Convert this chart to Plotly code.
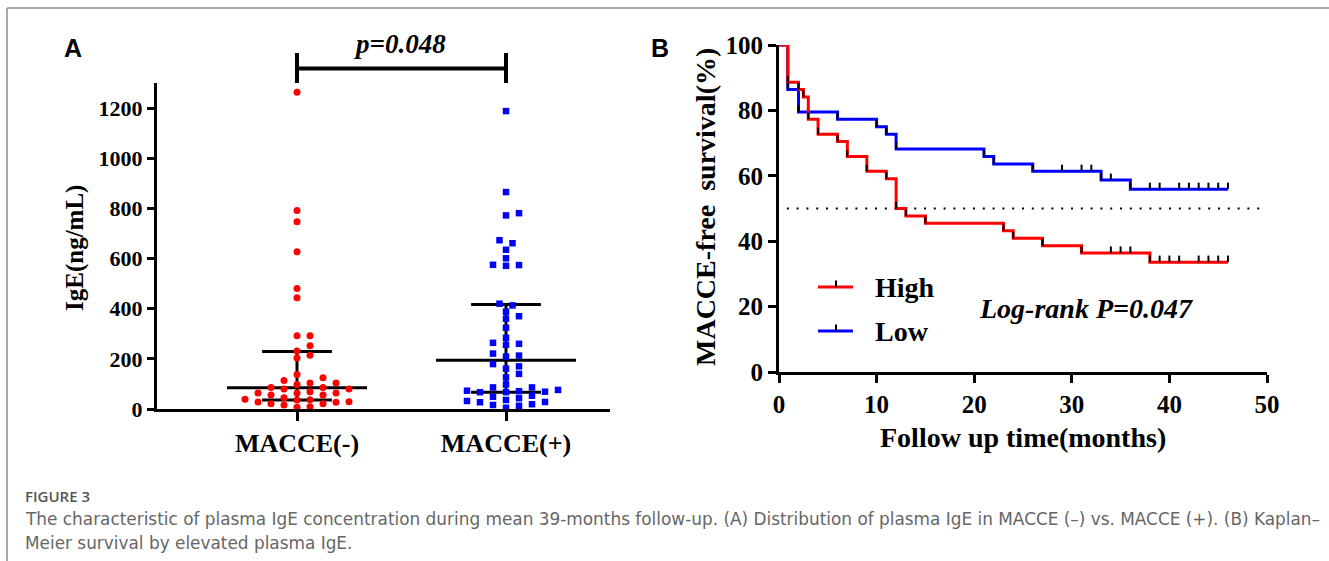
import numpy as np
import plotly.graph_objects as go

W, H = 1329, 561

# ---------------- data ----------------
categories = ["MACCE(-)", "MACCE(+)"]
ige_neg = [1263, 792, 747, 627, 481, 444, 292, 292, 252, 231, 214, 203, 138, 125, 114,
           104, 104, 98, 86, 86, 80, 80, 69, 64, 64, 64, 56, 56, 45, 39, 37, 36, 29,
           28, 27, 21, 21, 16, 9, 7]
ige_pos = [1188, 865, 781, 772, 673, 661, 635, 601, 575, 574, 571, 420, 413, 388, 370,
           360, 324, 284, 264, 260, 256, 221, 213, 209, 179, 170, 161, 140, 126, 98, 86,
           86, 76, 73, 71, 69, 67, 67, 53, 49, 43, 36, 32, 28, 27, 19, 16, 13, 5]
group_median = [85, 194]
group_q1 = [36, 67]
group_q3 = [229, 417]
p_text = "p=0.048"
a_yticks = [0, 200, 400, 600, 800, 1000, 1200]

high_time = [0, 0.9, 2, 2.5, 3, 4, 6, 7, 9, 11, 12, 13, 15, 23, 24, 27, 31, 38]
high_surv = [100, 88.6, 86.4, 84.1, 77.3, 72.7, 70.5, 65.9, 61.4, 59.1, 50.0, 47.7,
             45.5, 43.2, 40.9, 38.6, 36.4, 33.6]
high_censor = [34, 35, 36, 39, 40, 41, 43, 44, 45, 46]
low_time = [0, 0.9, 2, 6, 10, 11, 12, 21, 22, 26, 33, 36]
low_surv = [100, 86.4, 79.5, 77.3, 75.0, 72.7, 68.2, 65.9, 63.6, 61.4, 58.7, 55.9]
low_censor = [29, 31, 32, 34, 38, 39, 41, 42, 43, 44, 45, 46]
follow_end = 46
b_xticks = [0, 10, 20, 30, 40, 50]
b_yticks = [0, 20, 40, 60, 80, 100]

# ---------------- geometry helpers ----------------
def px(x):
    return x / W

def py(y):
    return 1 - y / H

A_X0, A_X1, A_Y0, A_Y1 = 157, 610, 409, 83
A_RANGE_X = [1 - (297 - A_X0) / 209, 2 + (A_X1 - 506) / 209]
A_RANGE_Y = [0, 1300]
B_X0, B_X1, B_Y0, B_Y1 = 779, 1267, 372, 45

unit_px_x = (A_X1 - A_X0) / (A_RANGE_X[1] - A_RANGE_X[0])
unit_px_y = (A_Y0 - A_Y1) / (A_RANGE_Y[1] - A_RANGE_Y[0])


def swarm(values, center):
    """simple beeswarm in pixel space"""
    order = np.argsort(values)
    placed = []
    xs = [0.0] * len(values)
    for i in order:
        yv = values[i] * unit_px_y
        cands = [0]
        for k in range(1, 30):
            cands += [k, -k]
        for k in cands:
            ox = k * 6.5
            ok = True
            for (qx, qy) in placed:
                if ((ox - qx) / 12.5) ** 2 + ((yv - qy) / 7.0) ** 2 < 1:
                    ok = False
                    break
            if ok:
                break
        placed.append((ox, yv))
        xs[i] = center + ox / unit_px_x
    return xs


fig = go.Figure()

serif = "Liberation Serif"

# ---- panel A points ----
fig.add_trace(go.Scatter(
    x=swarm(ige_neg, 1), y=ige_neg, mode="markers", xaxis="x", yaxis="y",
    marker=dict(symbol="circle", size=7, color="#FF0000", line=dict(width=0)),
    cliponaxis=False, showlegend=False, hoverinfo="y"))
fig.add_trace(go.Scatter(
    x=swarm(ige_pos, 2), y=ige_pos, mode="markers", xaxis="x", yaxis="y",
    marker=dict(symbol="square", size=6.5, color="#0000FF", line=dict(width=0)),
    cliponaxis=False, showlegend=False, hoverinfo="y"))

shapes = []
for i, c in enumerate([1, 2]):
    shapes.append(dict(type="line", xref="x", yref="y", x0=c - 0.335, x1=c + 0.335,
                       y0=group_median[i], y1=group_median[i],
                       line=dict(color="black", width=3), layer="below"))
    for q in (group_q1[i], group_q3[i]):
        shapes.append(dict(type="line", xref="x", yref="y", x0=c - 0.167, x1=c + 0.167,
                           y0=q, y1=q, line=dict(color="black", width=3), layer="below"))
    shapes.append(dict(type="line", xref="x", yref="y", x0=c, x1=c,
                       y0=group_q1[i], y1=group_q3[i],
                       line=dict(color="black", width=3), layer="below"))

# significance bracket
shapes.append(dict(type="line", xref="x", yref="paper", x0=1, x1=2, y0=py(68.5), y1=py(68.5),
                   line=dict(color="black", width=4)))
for c in (1, 2):
    shapes.append(dict(type="line", xref="x", yref="paper", x0=c, x1=c, y0=py(53), y1=py(83),
                       line=dict(color="black", width=4)))

# ---- panel B ----
def step_at(times, surv, t):
    s = surv[0]
    for tt, ss in zip(times, surv):
        if tt <= t:
            s = ss
    return s


def km_trace(times, surv, color):
    return go.Scatter(x=list(times) + [follow_end], y=list(surv) + [surv[-1]],
                      mode="lines", line=dict(color=color, width=3, shape="hv"),
                      xaxis="x2", yaxis="y2", cliponaxis=False, showlegend=False)


def tick_trace(times, surv, censor):
    tx, ty = [], []
    pts = [(t, s) for t, s in zip(times[1:], surv[1:])]
    pts += [(t, step_at(times, surv, t)) for t in censor]
    for t, s in pts:
        tx += [t, t, None]
        ty += [s, s + 2.0, None]
    return go.Scatter(x=tx, y=ty, mode="lines", line=dict(color="black", width=2),
                      xaxis="x2", yaxis="y2", cliponaxis=False, showlegend=False,
                      hoverinfo="skip")

# dotted median line
fig.add_trace(go.Scatter(x=[0.8, 49.8], y=[50, 50], mode="lines", xaxis="x2", yaxis="y2",
                         line=dict(color="black", width=2, dash="2px,7.8px"),
                         showlegend=False, hoverinfo="skip"))
fig.add_trace(km_trace(low_time, low_surv, "#0000FF"))
fig.add_trace(km_trace(high_time, high_surv, "#FF0000"))
fig.add_trace(tick_trace(low_time, low_surv, low_censor))
fig.add_trace(tick_trace(high_time, high_surv, high_censor))

# legend (manual)
for yy, col in ((287, "#FF0000"), (331, "#0000FF")):
    shapes.append(dict(type="line", xref="paper", yref="paper", x0=px(818), x1=px(853),
                       y0=py(yy), y1=py(yy), line=dict(color=col, width=3)))
    shapes.append(dict(type="line", xref="paper", yref="paper", x0=px(836), x1=px(836),
                       y0=py(yy), y1=py(yy - 6.5), line=dict(color="black", width=2)))

# figure border
shapes.append(dict(type="line", xref="paper", yref="paper", x0=px(7), x1=1, y0=py(8), y1=py(8),
                   line=dict(color="#8c8c8c", width=1.5)))
shapes.append(dict(type="line", xref="paper", yref="paper", x0=px(7), x1=px(7), y0=py(8), y1=0,
                   line=dict(color="#8c8c8c", width=1.5)))

cap_font = dict(family="DejaVu Sans", size=16.9, color="#666666")
annotations = [
    dict(text="A", x=px(73), y=py(47.5), font=dict(family="Liberation Sans", size=25, color="black", weight="bold")),
    dict(text="B", x=px(660), y=py(47.5), font=dict(family="Liberation Sans", size=25, color="black", weight="bold")),
    dict(text=p_text, x=px(400), y=py(44), font=dict(family=serif, size=27, color="black", weight="bold", style="italic")),
    dict(text="IgE(ng/mL)", x=px(75), y=py(248), textangle=-90,
         font=dict(family=serif, size=25, color="black", weight="bold")),
    dict(text="MACCE-free  survival(%)", x=px(706), y=py(207), textangle=-90,
         font=dict(family=serif, size=28, color="black", weight="bold")),
    dict(text="Follow up time(months)", x=px(1023), y=py(437),
         font=dict(family=serif, size=28, color="black", weight="bold")),
    dict(text="High", x=px(873), y=py(287), xanchor="left",
         font=dict(family=serif, size=28, color="black", weight="bold")),
    dict(text="Low", x=px(873), y=py(331), xanchor="left",
         font=dict(family=serif, size=28, color="black", weight="bold")),
    dict(text="Log-rank P=0.047", x=px(1086), y=py(308),
         font=dict(family=serif, size=28, color="black", weight="bold", style="italic")),
    dict(text="FIGURE 3", x=px(23), y=py(496), xanchor="left",
         font=dict(family="Open Sans", size=15, color="#555555", weight=600)),
    dict(text="The characteristic of plasma IgE concentration during mean 39-months follow-up. (A) Distribution of plasma IgE in MACCE (\u2013) vs. MACCE (+). (B) Kaplan\u2013",
         x=px(23), y=py(519), xanchor="left", font=cap_font),
    dict(text="Meier survival by elevated plasma IgE.", x=px(23), y=py(543), xanchor="left",
         font=cap_font),
]
for a in annotations:
    a.setdefault("xref", "paper")
    a.setdefault("yref", "paper")
    a.setdefault("showarrow", False)
    a.setdefault("xanchor", "center")
    a.setdefault("yanchor", "middle")

axis_common = dict(showline=True, linecolor="black", linewidth=3, ticks="outside",
                   tickcolor="black", tickwidth=3, showgrid=False, zeroline=False,
                   automargin=False)

fig.update_layout(
    width=W, height=H, margin=dict(l=0, r=0, t=0, b=0, pad=0, autoexpand=False),
    paper_bgcolor="white", plot_bgcolor="white", showlegend=False,
    xaxis=dict(domain=[px(A_X0), px(A_X1)], range=A_RANGE_X, tickvals=[1, 2], ticktext=categories,
               ticklen=9, anchor="y", tickfont=dict(family=serif, size=26, color="black", weight="bold"),
               **axis_common),
    yaxis=dict(domain=[py(A_Y0), py(A_Y1)], range=A_RANGE_Y, tickvals=a_yticks, ticklen=7,
               anchor="x", tickfont=dict(family=serif, size=22, color="black", weight="bold"),
               **axis_common),
    xaxis2=dict(domain=[px(B_X0), px(B_X1)], range=[0, 50], tickvals=b_xticks, ticklen=8,
                anchor="y2", tickfont=dict(family=serif, size=25, color="black", weight="bold"),
                **axis_common),
    yaxis2=dict(domain=[py(B_Y0), py(B_Y1)], range=[0, 100], tickvals=b_yticks, ticklen=8,
                anchor="x2", tickfont=dict(family=serif, size=25, color="black", weight="bold"),
                **axis_common),
    shapes=shapes, annotations=annotations,
)

fig.write_html("out.html", config={"displayModeBar": False},
               post_script="document.body.style.margin='0';document.body.style.overflow='hidden';")
